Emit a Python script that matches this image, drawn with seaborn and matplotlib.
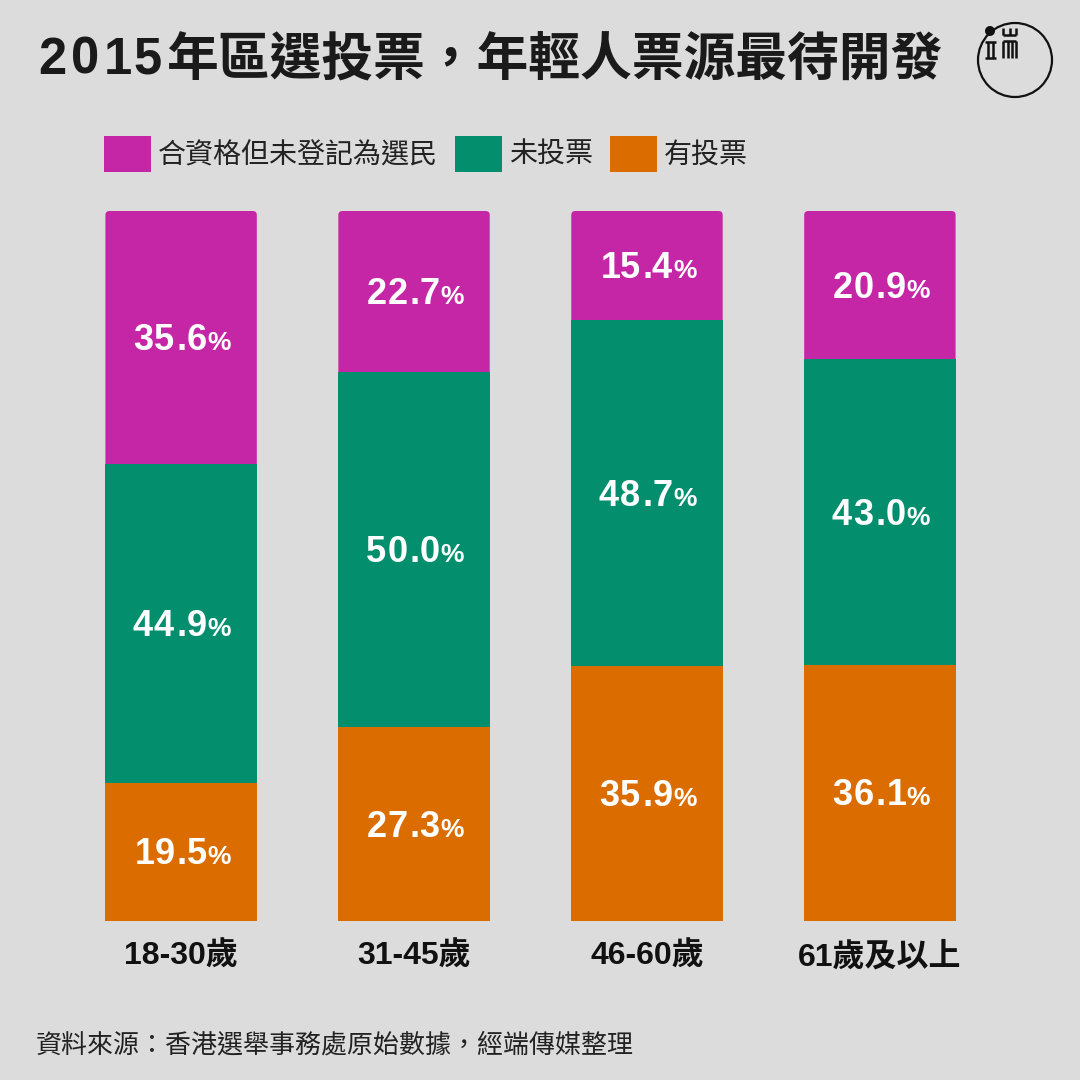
import matplotlib
matplotlib.use('Agg')
import matplotlib.pyplot as plt
import matplotlib.transforms as mtransforms
from matplotlib.lines import Line2D
from matplotlib.patches import Circle, Patch, FancyBboxPatch
from matplotlib.font_manager import FontProperties, findfont
from matplotlib.ft2font import FT2Font
import seaborn as sns
import pandas as pd

# ---------------- data ----------------
groups = ['18-30歲', '31-45歲', '46-60歲', '61歲及以上']
voted = [19.5, 27.3, 35.9, 36.1]
not_voted = [44.9, 50.0, 48.7, 43.0]
unregistered = [35.6, 22.7, 15.4, 20.9]
series_names = ['合資格但未登記為選民', '未投票', '有投票']
colors = ['#C526A6', '#038F6E', '#DB6C00']
title_year = '2015'
title_rest = '年區選投票，年輕人票源最待開發'
source = '資料來源：香港選舉事務處原始數據，經端傳媒整理'

BG = '#DCDCDC'
DPI = 100
LAT = 'Liberation Sans'
CJK = 'Noto Sans CJK TC'
sns.set_theme(style='white')
plt.rcParams['font.family'] = [LAT, CJK, 'DejaVu Sans']

fig = plt.figure(figsize=(10.8, 10.8), dpi=DPI, facecolor=BG)
ax = fig.add_axes([53/1080, 1-921/1080, 955/1080, 710/1080])
ax.set_facecolor(BG)

df = pd.DataFrame({'group': groups, 'voted': voted,
                   'not_voted': not_voted, 'unreg': unregistered})
df['mid'] = df['voted'] + df['not_voted']
df['top'] = df['mid'] + df['unreg']

W = 0.65
sns.barplot(data=df, x='group', y='top', color=colors[0], width=W,
            saturation=1, errorbar=None, linewidth=0, ax=ax, zorder=1)
top_patches = list(ax.patches)
sns.barplot(data=df, x='group', y='mid', color=colors[1], width=W,
            saturation=1, errorbar=None, linewidth=0, ax=ax, zorder=2)
sns.barplot(data=df, x='group', y='voted', color=colors[2], width=W,
            saturation=1, errorbar=None, linewidth=0, ax=ax, zorder=3)

ax.set_xlim(-0.55, 3.55)
ax.set_ylim(0, 100)

# round the top corners of the stacked bars
for p in top_patches:
    x0, y0 = p.get_x(), p.get_y()
    w, h = p.get_width(), p.get_height()
    p.remove()
    fb = FancyBboxPatch((x0, y0), w, h,
                        boxstyle='round,pad=0,rounding_size=0.018',
                        mutation_aspect=31, facecolor=colors[0],
                        edgecolor='none', zorder=1)
    ax.add_patch(fb)

for s in ax.spines.values():
    s.set_visible(False)
ax.set_yticks([])
ax.set_xlabel('')
ax.set_ylabel('')
ax.set_xticks(range(len(groups)))
ax.set_xticklabels(groups, fontsize=23, fontweight='bold', color='#111111')
ax.tick_params(axis='x', length=0, pad=15)

# ---------------- tracked text helper (latin digits) ----------------
_fonts = {}
def glyph_metrics(ch, size, family, weight='bold'):
    key = (family, weight)
    if key not in _fonts:
        _fonts[key] = FT2Font(findfont(FontProperties(family=family, weight=weight)))
    f = _fonts[key]
    f.set_size(size, DPI)
    g = f.load_char(ord(ch))
    return g.linearHoriAdvance / 65536.0, g.horiBearingX / 64.0

def tracked(base, x, y, runs, ha='center', dy=0.0, color='white', zorder=5,
            target=None):
    items = []
    pen = 0.0
    last_tr = 0.0
    for text, size, tr, fam in runs:
        for ch in text:
            adv, bx = glyph_metrics(ch, size, fam)
            items.append((ch, size, pen + bx, fam))
            pen += adv + tr
            last_tr = tr
    total = pen - last_tr
    start = -total / 2 if ha == 'center' else 0.0
    tgt = target if target is not None else ax
    for ch, size, off, fam in items:
        tgt.text(x, y, ch, ha='left', va='baseline', fontsize=size,
                 fontweight='bold', color=color, family=[fam, CJK],
                 zorder=zorder,
                 transform=mtransforms.offset_copy(base, fig=fig, x=start + off,
                                                   y=dy, units='dots'))
    return total

def add_label(i, y, value):
    tracked(ax.transData, i, y,
            [(f'{value:.1f}', 26, 1.0, LAT), ('%', 19, 0, LAT)],
            ha='center', dy=-12.5)

for i in range(len(groups)):
    add_label(i, voted[i] / 2, voted[i])
    add_label(i, voted[i] + not_voted[i] / 2, not_voted[i])
    add_label(i, voted[i] + not_voted[i] + unregistered[i] / 2, unregistered[i])

# ---------------- legend ----------------
handles = [Patch(facecolor=c, edgecolor='none') for c in colors]
leg = fig.legend(handles, series_names, loc='center left',
                 bbox_to_anchor=(104/1080, 1-154/1080), ncol=3, frameon=False,
                 fontsize=20.2, handlelength=1.68, handleheight=1.63,
                 handletextpad=0.25, columnspacing=0.6, borderpad=0,
                 borderaxespad=0)
for t in leg.get_texts():
    t.set_color('#222222')

# ---------------- title & source ----------------
tracked(fig.transFigure, 37/1080, 1-74/1080,
        [(title_year, 36.5, 3.5, LAT)], ha='left', color='#1A1A1A', target=fig)
fig.text(166/1080, 1-75/1080, title_rest, fontsize=37.3, fontweight='bold',
         va='baseline', ha='left', color='#1A1A1A', family=[CJK])
fig.text(36/1080, 1-1045/1080, source, fontsize=18.7, va='center', ha='left',
         color='#222222')

# ---------------- logo ----------------
def P(x, y):
    return (x/1080, 1-y/1080)

circ = Circle(P(1015, 60), 37/1080, transform=fig.transFigure,
              facecolor='none', edgecolor='#111111', linewidth=1.6)
fig.patches.append(circ)
dot = Circle(P(990, 31), 5/1080, transform=fig.transFigure,
             facecolor='#111111', edgecolor='none')
fig.patches.append(dot)
strokes = [
    [(985, 42), (996, 42)], [(985, 58), (996, 58)],
    [(988, 42), (988, 58)], [(993, 42), (993, 58)],
    [(1003, 28), (1003, 35)], [(1009.5, 28), (1009.5, 35)],
    [(1016, 28), (1016, 35)], [(1003, 35), (1016, 35)],
    [(1003, 41), (1016, 41)], [(1003, 41), (1003, 58)],
    [(1016, 41), (1016, 58)], [(1007.5, 41), (1007.5, 58)],
    [(1011.5, 41), (1011.5, 58)],
]
for s in strokes:
    (xa, ya), (xb, yb) = P(*s[0]), P(*s[1])
    fig.lines.append(Line2D([xa, xb], [ya, yb], transform=fig.transFigure,
                            color='#111111', linewidth=1.8,
                            solid_capstyle='butt'))

fig.savefig('out.png', dpi=DPI, facecolor=BG)
